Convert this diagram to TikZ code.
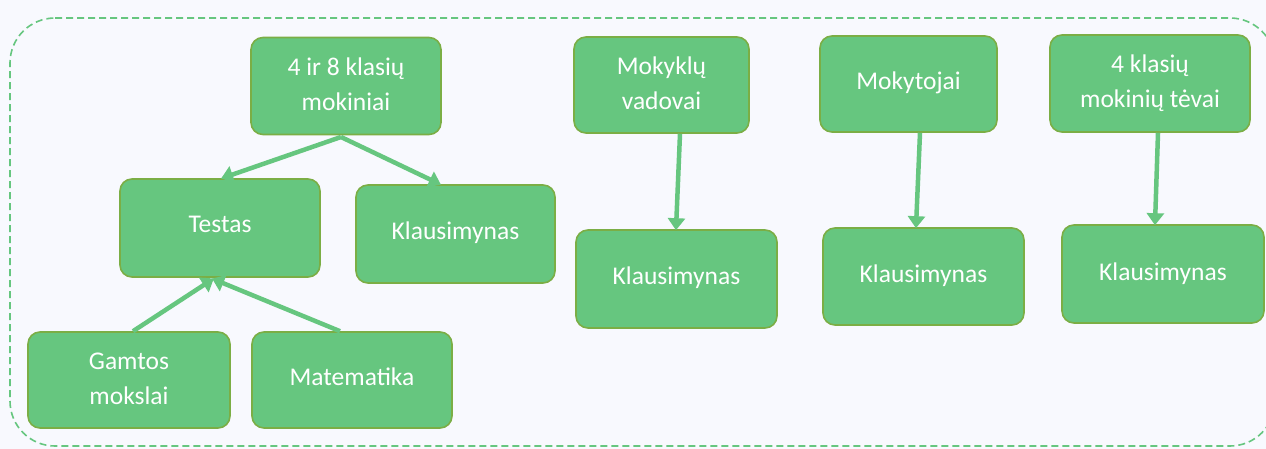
\documentclass[tikz,border=0pt]{standalone}
\usepackage{fontspec}
\setmainfont{Carlito}
\usetikzlibrary{arrows.meta}
\definecolor{bgc}{HTML}{F8F9FE}
\definecolor{boxfill}{HTML}{66C67F}
\definecolor{boxline}{HTML}{7BAE45}
\definecolor{arr}{HTML}{66C67F}
\newcommand{\up}[2]{\raisebox{#1pt}{#2}}
\tikzset{
  box/.style={draw=boxline, fill=boxfill, line width=1.6pt, rounded corners=12pt,
    text=white, font=\fontsize{25.5}{35}\selectfont, align=center, inner sep=0pt},
  conn/.style={draw=arr, line width=4.5pt, -{Triangle[length=12pt,width=17pt]}, shorten >=-1pt},
}
\begin{document}
\begin{tikzpicture}[x=1pt,y=-1pt]
\useasboundingbox (0,0) rectangle (1266,449);
\fill[bgc] (0,0) rectangle (1266,449);
\begin{scope}
\clip (0,0) rectangle (1266,449);
\draw[arr, line width=1.6pt, dash pattern=on 7pt off 4pt, rounded corners=45pt]
  (10,18) -- (1275,18) -- (1275,446) -- (10,446) -- cycle;
\end{scope}
% nodes
\node[box, minimum width=190pt, minimum height=97pt] (a) at (346,86) {\up{3}{4 ir 8 klasių}\\\up{3}{mokiniai}};
\node[box, minimum width=200pt, minimum height=98pt] (testas) at (220,228) {\up{7}{Testas}};
\node[box, minimum width=199pt, minimum height=98pt] (k1) at (455.5,234) {\up{6}{Klausimynas}};
\node[box, minimum width=202pt, minimum height=96pt] (g) at (129,380) {\up{2}{Gamtos}\\\up{2}{mokslai}};
\node[box, minimum width=200pt, minimum height=96pt] (m) at (352,380) {\up{6}{Matematika}};
\node[box, minimum width=175pt, minimum height=96pt] (v) at (661.5,85) {\up{4}{Mokyklų}\\\up{4}{vadovai}};
\node[box, minimum width=201pt, minimum height=98pt] (k2) at (676.5,279) {\up{6}{Klausimynas}};
\node[box, minimum width=177pt, minimum height=96pt] (t) at (908.5,84) {\up{7}{Mokytojai}};
\node[box, minimum width=201pt, minimum height=97pt] (k3) at (923.5,276.5) {\up{5}{Klausimynas}};
\node[box, minimum width=200pt, minimum height=97pt] (p) at (1150,83.5) {\up{2}{4 klasių}\\\up{2}{mokinių tėvai}};
\node[box, minimum width=202pt, minimum height=98pt] (k4) at (1163,274) {\up{5}{Klausimynas}};
% connectors
\coordinate (ab) at (341,137);
\draw[conn] (ab) -- (testas.north -| 222,0);
\draw[conn] (ab) -- (k1.north -| 440,0);
\coordinate (tb) at (213,279);
\draw[conn] (g.north -| 133,0) -- (tb);
\draw[conn] (m.north -| 340,0) -- (tb);
\draw[conn] (v.south -| 680,0) -- (k2.north -| 676,0);
\draw[conn] (t.south -| 920,0) -- (k3.north -| 916,0);
\draw[conn] (p.south -| 1158,0) -- (k4.north -| 1155,0);
\end{tikzpicture}
\end{document}
